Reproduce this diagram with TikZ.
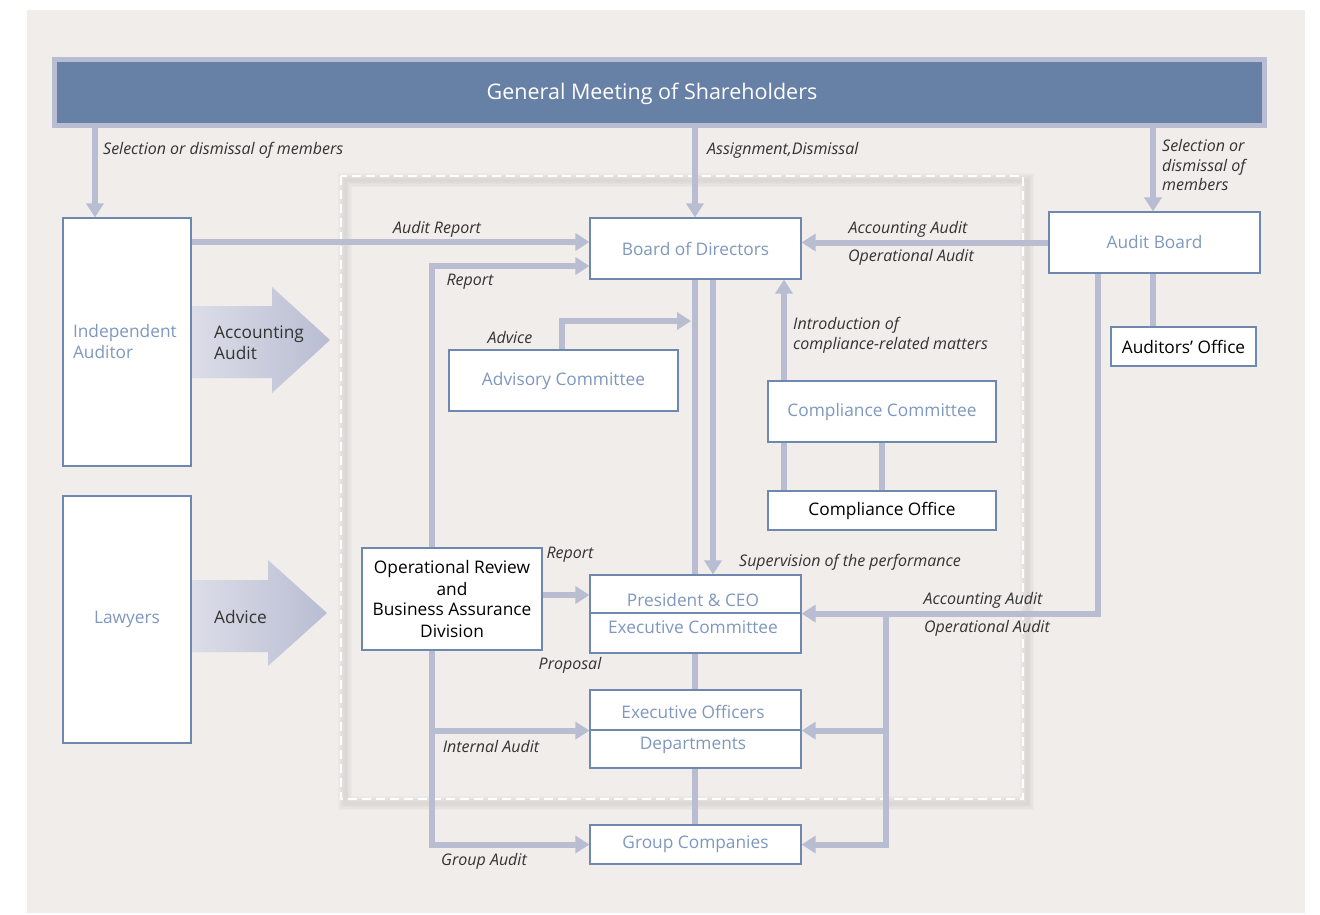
\documentclass[tikz,border=0pt]{standalone}
\usepackage{fontspec}
\setmainfont{Open Sans}
\usetikzlibrary{arrows.meta}

\definecolor{bgc}{RGB}{240,237,234}
\definecolor{arr}{RGB}{185,189,210}
\definecolor{arrlight}{RGB}{220,221,232}
\definecolor{bann}{RGB}{103,128,165}
\definecolor{boxc}{RGB}{111,136,176}
\definecolor{boxt}{RGB}{128,152,190}
\definecolor{lab}{RGB}{51,51,51}
\definecolor{shadowc}{RGB}{190,187,183}

\newcommand{\boxfont}{\fontsize{17.3}{21}\selectfont}
\newcommand{\labfont}{\fontsize{16}{19.5}\selectfont\itshape}

\tikzset{
  box/.style={draw=boxc, line width=1.2pt, fill=white, inner sep=0pt,
              text=boxt, font=\boxfont, align=center},
  boxdark/.style={box, text=black},
  plain/.style={inner sep=0pt, font=\boxfont, text=boxt},
  conn/.style={draw=arr, line width=6pt},
  tipped/.style={conn, -{Triangle[width=17pt,length=14pt]}},
  lbl/.style={font=\labfont, text=lab, inner sep=0pt, align=left},
}

\begin{document}
\begin{tikzpicture}[x=1pt,y=-1pt]
\useasboundingbox (0,0) rectangle (1320,914);
\fill[white] (0,0) rectangle (1320,914);
\fill[bgc] (27,10) rectangle (1305,913);

% dashed frame round the executive organs, with its soft shadow
\foreach \w in {14,11,8,5,3}
  \draw[shadowc, line width=\w pt, opacity=0.09] (345,180) rectangle (1027,803);
\draw[white, line width=2pt, dash pattern=on 9pt off 5pt] (341,176) rectangle (1023,799);

% shareholders banner
\node[draw=arr, line width=5pt, fill=bann, inner sep=0pt,
      minimum width=1210pt, minimum height=66pt] (gms) at (659.5,92.5) {};
\node[inner sep=0pt, text=white, font=\fontsize{21.5}{24}\selectfont] (gmst) at (652,94)
      {General Meeting of Shareholders};

% outside parties
\node[box, minimum width=128pt, minimum height=248pt, text width=108pt, align=left] (ia) at (127,342)
      {Independent\\Auditor};
\node[box, minimum width=128pt, minimum height=247pt] (law) at (127,619.5) {Lawyers};

% wide arrows from the outside parties
\shade[left color=arrlight, right color=arr]
  (192,306) -- (272,306) -- (272,287) -- (330,340) -- (272,393) -- (272,378) -- (192,378) -- cycle;
\shade[left color=arrlight, right color=arr]
  (192,580) -- (268,580) -- (268,560) -- (327,613) -- (268,666) -- (268,652) -- (192,652) -- cycle;
\node[inner sep=0pt, font=\boxfont, text=lab, anchor=west, align=left] (accaud) at (214,343)
      {Accounting\\Audit};
\node[inner sep=0pt, font=\boxfont, text=lab, anchor=west] (advtxt) at (214,617) {Advice};

% organs
\node[box, minimum width=211pt, minimum height=61pt] (bod) at (695.5,248.5) {Board of Directors};
\node[box, minimum width=211pt, minimum height=61pt] (ab) at (1154.5,242.5) {Audit Board};
\node[boxdark, minimum width=145pt, minimum height=39pt] (ao) at (1183.5,346.5) {Auditors’ Office};
\node[box, minimum width=229pt, minimum height=61pt] (adv) at (563.5,380.5) {Advisory Committee};
\node[box, minimum width=228pt, minimum height=61pt] (cc) at (882,411.5) {Compliance Committee};
\node[boxdark, minimum width=228pt, minimum height=39pt] (co) at (882,510.5) {Compliance Office};
\node[boxdark, minimum width=180pt, minimum height=102pt] (orb) at (452,599)
      {Operational Review\\and\\Business Assurance\\Division};
\node[box, minimum width=211pt, minimum height=38pt] (pres) at (695.5,594) {};
\node[box, minimum width=211pt, minimum height=40pt] (exc) at (695.5,633) {};
\node[box, minimum width=211pt, minimum height=40pt] (eo) at (695.5,710) {};
\node[box, minimum width=211pt, minimum height=38pt] (dep) at (695.5,749) {};
\node[box, minimum width=211pt, minimum height=39pt] (gc) at (695.5,844.5) {Group Companies};
\node[plain] (prest) at (693,600) {President \& CEO};
\node[plain] (exct) at (693,627) {Executive Committee};
\node[plain] (eot) at (693,712) {Executive Officers};
\node[plain] (dept) at (693,745) {Departments};

% appointment arrows from the shareholders
\draw[tipped] (95,0 |- gms.south) -- (95,0 |- ia.north);
\draw[tipped] (695,0 |- gms.south) -- (695,0 |- bod.north);
\draw[tipped] (1153,0 |- gms.south) -- (1153,0 |- ab.north);

% reports to the board
\draw[tipped] (ia.east |- 0,242) -- (bod.west |- 0,242);
\draw[tipped] (ab.west) -- (bod.east |- ab.west);
\draw[tipped] (432,0 |- orb.north) |- (bod.west |- 0,266);
\coordinate (advtip) at (691,321);
\draw[tipped] (562,0 |- adv.north) |- (advtip);
\draw[tipped] (784,0 |- cc.north) -- (784,0 |- bod.south);

% line of command
\draw[conn] (695,0 |- bod.south) -- (695,0 |- pres.north);
\draw[conn] (695,0 |- exc.south) -- (695,0 |- eo.north);
\draw[conn] (695,0 |- dep.south) -- (695,0 |- gc.north);
\draw[tipped] (713,0 |- bod.south) -- (713,0 |- pres.north);

% compliance and auditors' office links
\draw[conn] (784,0 |- cc.south) -- (784,0 |- co.north);
\draw[conn] (cc.south) -- (co.north);
\draw[conn] (1153,0 |- ab.south) -- (1153,0 |- ao.north);

% audit board audits
\draw[tipped] (1098,0 |- ab.south) |- (pres.south east);
\draw[tipped] (886,0 |- pres.south east) |- (gc.east);
\draw[tipped] (886,0 |- eo.south east) -- (eo.south east);

% operational review links
\draw[tipped] (orb.east |- 0,595) -- (pres.west |- 0,595);
\draw[tipped] (432,0 |- orb.south) |- (gc.west);
\draw[tipped] (432,0 |- eo.south west) -- (eo.south west);

% labels
\node[lbl, anchor=west] (l1) at (103,150) {Selection or dismissal of members};
\node[lbl, anchor=west] (l2) at (707,150) {Assignment,Dismissal};
\node[lbl, anchor=west] (l3) at (1162,165) {Selection or\\dismissal of\\members};
\node[lbl] (l4) at (437,229) {Audit Report};
\node[lbl] (l5) at (470,282) {Report};
\node[lbl] (l6) at (510,337) {Advice};
\node[lbl] (l7) at (908,229) {Accounting Audit};
\node[lbl] (l8) at (911,257) {Operational Audit};
\node[lbl, anchor=west] (l9) at (793,335.5) {Introduction of\\compliance-related matters};
\node[lbl] (l10) at (850,562) {Supervision of the performance};
\node[lbl] (l11) at (983,600) {Accounting Audit};
\node[lbl] (l12) at (987,628) {Operational Audit};
\node[lbl] (l13) at (570,555) {Report};
\node[lbl] (l14) at (570,665) {Proposal};
\node[lbl] (l15) at (491,746) {Internal Audit};
\node[lbl] (l16) at (484,861) {Group Audit};
\end{tikzpicture}
\end{document}
